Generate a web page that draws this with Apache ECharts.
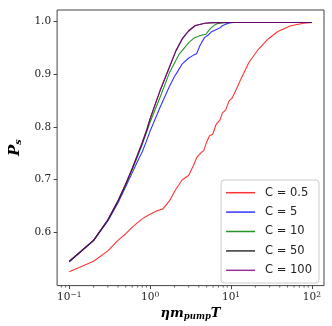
<!DOCTYPE html>
<html>
<head>
<meta charset="utf-8">
<script src="https://cdn.jsdelivr.net/npm/echarts@6/dist/echarts.min.js"></script>
<style>
  html, body { margin: 0; padding: 0; background: #fff; }
  #chart { width: 332px; height: 326px; }
</style>
</head>
<body>
<div id="chart"></div>
<script>
// series labels and colours
const labels = ['C = 0.5', 'C = 5', 'C = 10', 'C = 50', 'C = 100']
const colors = ['rgba(255,0,0,0.8)', 'rgba(0,0,255,0.8)', 'rgba(0,128,0,0.85)', 'rgba(0,0,0,0.8)', 'rgba(128,0,128,0.8)']

// C = 0.5
const xC05 = [0.1, 0.2, 0.3, 0.4, 0.5, 0.6, 0.7, 0.8, 0.9, 1.0, 1.2, 1.44, 1.73, 2.08, 2.5, 2.99, 3.43, 3.77, 4.32, 4.6, 4.96, 5.42, 5.94, 6.52, 7.3, 7.8, 8.6, 9.4, 10.3, 11.8, 13.3, 16.7, 21.9, 28.8, 37.9, 54.6, 78.9, 100]
const yC05 = [0.529, 0.549, 0.5686, 0.5885, 0.601, 0.613, 0.622, 0.629, 0.634, 0.638, 0.644, 0.648, 0.663, 0.685, 0.703, 0.711, 0.730, 0.745, 0.755, 0.758, 0.773, 0.786, 0.789, 0.807, 0.816, 0.829, 0.835, 0.851, 0.857, 0.876, 0.894, 0.925, 0.950, 0.969, 0.983, 0.994, 0.9987, 1.0]

// C = 5
const xC5 = [0.1, 0.2, 0.3, 0.4, 0.5, 0.6, 0.7, 0.8, 0.9, 1.0, 1.32, 1.73, 2.0, 2.28, 2.5, 3.0, 3.4, 3.75, 4.12, 4.32, 4.73, 5.18, 5.68, 6.2, 6.8, 7.3, 7.8, 8.6, 9.6, 10.7, 100]
const yC5 = [0.548, 0.588, 0.625, 0.659, 0.690, 0.716, 0.738, 0.756, 0.776, 0.795, 0.839, 0.879, 0.898, 0.912, 0.922, 0.933, 0.938, 0.941, 0.956, 0.962, 0.972, 0.976, 0.982, 0.985, 0.988, 0.990, 0.994, 0.997, 0.999, 1.0, 1.0]

// C = 10
const xC10 = [0.1, 0.2, 0.3, 0.4, 0.5, 0.6, 0.7, 0.8, 0.9, 1.0, 1.32, 1.73, 2.28, 3.0, 3.5, 3.94, 4.5, 4.9, 5.3, 5.68, 6.2, 6.8, 8, 10, 100]
const yC10 = [0.5486, 0.5885, 0.627, 0.662, 0.694, 0.722, 0.747, 0.770, 0.792, 0.812, 0.858, 0.905, 0.940, 0.962, 0.971, 0.974, 0.977, 0.978, 0.985, 0.990, 0.995, 0.998, 0.9995, 1.0, 1.0]

// C = 50
const xC50 = [0.1, 0.2, 0.3, 0.4, 0.5, 0.6, 0.7, 0.8, 0.9, 1.0, 1.32, 1.73, 2.08, 2.5, 3.0, 3.6, 4.73, 6, 10, 100]
const yC50 = [0.5486, 0.5885, 0.627, 0.663, 0.695, 0.724, 0.750, 0.773, 0.795, 0.818, 0.870, 0.915, 0.946, 0.969, 0.984, 0.994, 0.9987, 0.9998, 1.0, 1.0]

// C = 100
const xC100 = [0.1, 0.2, 0.3, 0.4, 0.5, 0.6, 0.7, 0.8, 0.9, 1.0, 1.32, 1.73, 2.08, 2.5, 3.0, 3.6, 4.73, 6, 10, 100]
const yC100 = [0.5487, 0.5887, 0.6275, 0.6635, 0.6957, 0.7247, 0.7508, 0.774, 0.796, 0.819, 0.871, 0.916, 0.947, 0.970, 0.985, 0.9945, 0.9988, 0.9998, 1.0, 1.0]

// log-axis minor tick positions
const minorTicks = [0.08, 0.09, 0.2, 0.3, 0.4, 0.5, 0.6, 0.7, 0.8, 0.9, 2, 3, 4, 5, 6, 7, 8, 9, 20, 30, 40, 50, 60, 70, 80, 90]

const xs = [xC05, xC5, xC10, xC50, xC100]
const ys = [yC05, yC5, yC10, yC50, yC100]

const yMin = 0.503
const yMax = 1.0237
const serif = '"DejaVu Serif", serif'

const chart = echarts.init(document.getElementById('chart'), null, { renderer: 'canvas' })

const lineSeries = labels.map((name, i) => ({
  name,
  type: 'line',
  data: xs[i].map((x, k) => [x, ys[i][k]]),
  showSymbol: false,
  symbol: 'none',
  lineStyle: { color: colors[i], width: 1.1 },
  itemStyle: { color: colors[i] },
  animation: false
}))

chart.setOption({
  animation: false,
  grid: { left: 46, right: 8, top: 10, bottom: 37, show: true, borderColor: '#444', borderWidth: 1 },
  xAxis: {
    type: 'log',
    min: 0.0708,
    max: 141,
    logBase: 10,
    name: '{a|ηm}{b|pump}{a|T}',
    nameLocation: 'middle',
    nameGap: 13,
    nameTextStyle: {
      rich: {
        a: { fontFamily: serif, fontStyle: 'italic', fontWeight: 'bold', fontSize: 13, color: '#000' },
        b: { fontFamily: serif, fontStyle: 'italic', fontWeight: 'bold', fontSize: 8.5, color: '#000', padding: [5, 0, 0, 0] }
      }
    },
    axisLine: { show: false },
    axisTick: { show: true, length: 3.5, lineStyle: { color: '#444' } },
    splitLine: { show: false },
    axisLabel: {
      margin: 5,
      showMinLabel: false,
      showMaxLabel: false,
      formatter: v => {
        const e = Math.round(Math.log10(v))
        return '{b|10}{e|' + (e < 0 ? '−' + (-e) : e) + '}'
      },
      rich: {
        b: { fontFamily: serif, fontSize: 10.5, color: '#222' },
        e: { fontFamily: serif, fontSize: 7.5, color: '#222', verticalAlign: 'bottom', padding: [0, 0, 5, 0] }
      }
    }
  },
  yAxis: {
    type: 'value',
    min: yMin,
    max: yMax,
    interval: 0.1,
    name: '{p|P}{s|s}',
    nameLocation: 'middle',
    nameGap: 31,
    nameTextStyle: {
      rich: {
        p: { fontFamily: serif, fontStyle: 'italic', fontWeight: 'bold', fontSize: 15, color: '#000' },
        s: { fontFamily: serif, fontStyle: 'italic', fontWeight: 'bold', fontSize: 9.5, color: '#000', padding: [6, 0, 0, 0] }
      }
    },
    axisLine: { show: false },
    axisTick: { show: true, length: 3.5, lineStyle: { color: '#444' } },
    splitLine: { show: false },
    axisLabel: {
      margin: 6,
      showMinLabel: false,
      showMaxLabel: false,
      fontFamily: serif,
      fontSize: 10.5,
      color: '#222',
      formatter: v => v.toFixed(1)
    }
  },
  legend: {
    orient: 'vertical',
    right: 13,
    top: 180,
    padding: [3, 7, 3, 5],
    icon: 'rect',
    itemWidth: 29,
    itemHeight: 1.5,
    itemGap: 0,
    borderColor: '#ccc',
    borderWidth: 1,
    borderRadius: 3,
    backgroundColor: 'rgba(255,255,255,0.85)',
    data: labels,
    textStyle: { fontFamily: '"DejaVu Sans", sans-serif', fontSize: 11.5, lineHeight: 19.4, color: '#222', padding: [0, 0, 0, 5] }
  },
  series: [
    ...lineSeries,
    {
      type: 'custom',
      silent: true,
      data: minorTicks.map(v => [v, yMin]),
      renderItem: (params, api) => {
        const p = api.coord([api.value(0), yMin])
        return {
          type: 'line',
          shape: { x1: p[0], y1: p[1], x2: p[0], y2: p[1] + 2 },
          style: { stroke: '#444', lineWidth: 0.8 }
        }
      }
    }
  ]
})
</script>
</body>
</html>
